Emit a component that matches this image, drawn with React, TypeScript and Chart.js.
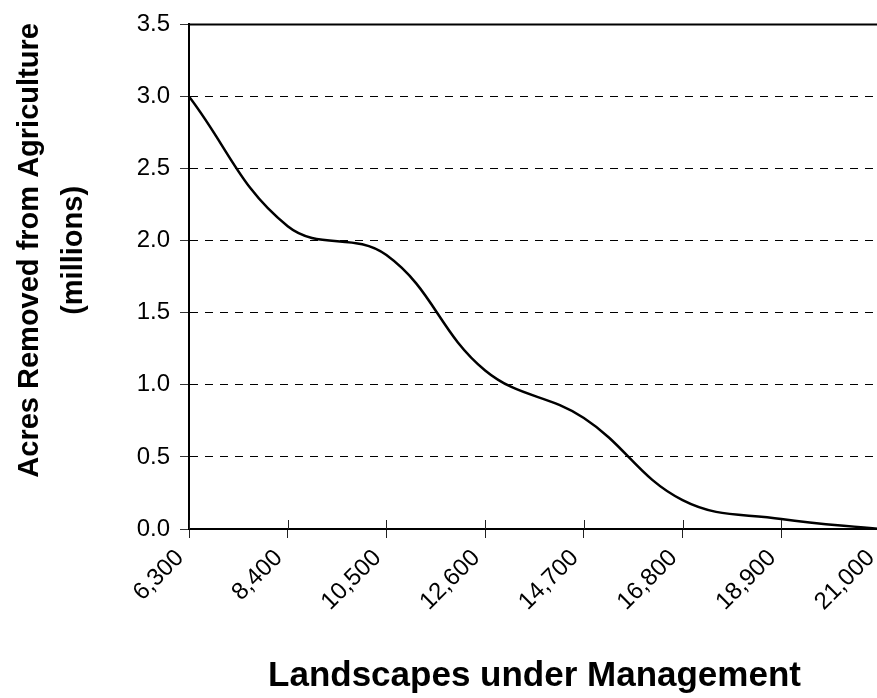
import React, { useEffect, useRef } from "react";
import { Chart, registerables } from "chart.js";

Chart.register(...registerables);

// Landscapes under management (x) and acres removed from agriculture, millions (y)
const landscapes = [6300, 8400, 10500, 12600, 14700, 16800, 18900, 21000];
const acresRemoved = [3.0, 2.1, 1.9, 1.1, 0.77, 0.2, 0.07, 0.0];

const xTickValues = [6300, 8400, 10500, 12600, 14700, 16800, 18900, 21000];
const yTickValues = [0, 0.5, 1.0, 1.5, 2.0, 2.5, 3.0, 3.5];

const xTitle = "Landscapes under Management";
const yTitle = ["Acres Removed from Agriculture", "(millions)"];

const FONT = "'Liberation Sans', Arial, Helvetica, sans-serif";

export default function App() {
  const ref = useRef<HTMLCanvasElement | null>(null);

  useEffect(() => {
    const canvas = ref.current;
    if (!canvas) return;

    const framePlugin = {
      id: "frame",
      afterDraw(chart: any) {
        const { ctx, chartArea } = chart;
        const xs = chart.scales.x;
        ctx.save();
        // top border
        ctx.strokeStyle = "#000";
        ctx.lineWidth = 2;
        ctx.beginPath();
        ctx.moveTo(chartArea.left - 1, chartArea.top);
        ctx.lineTo(chartArea.right + 10, chartArea.top);
        ctx.stroke();
        // inward tick marks on x axis
        ctx.lineWidth = 1;
        ctx.strokeStyle = "#222";
        for (const v of xTickValues) {
          const px = Math.round(xs.getPixelForValue(v)) + 0.5;
          ctx.beginPath();
          ctx.moveTo(px, chartArea.bottom - 9);
          ctx.lineTo(px, chartArea.bottom);
          ctx.stroke();
        }
        // y axis title (two centred lines, placed like the original)
        ctx.fillStyle = "#000";
        ctx.font = `bold 29px ${FONT}`;
        ctx.textAlign = "center";
        ctx.textBaseline = "middle";
        const cy = chartArea.top + 226;
        const xs0 = [30, 74];
        yTitle.forEach((line, i) => {
          ctx.save();
          ctx.translate(xs0[i], cy);
          ctx.rotate(-Math.PI / 2);
          ctx.fillText(line, 0, 0);
          ctx.restore();
        });
        ctx.restore();
      },
    };

    const chart = new Chart(canvas, {
      type: "line",
      data: {
        datasets: [
          {
            data: landscapes.map((x, i) => ({ x, y: acresRemoved[i] })),
            borderColor: "#000",
            borderWidth: 2.5,
            pointRadius: 0,
            tension: 0.4,
            fill: false,
          },
        ],
      },
      options: {
        responsive: false,
        animation: false,
        layout: { padding: { top: 20, right: 10, left: 0, bottom: 0 } },
        plugins: {
          legend: { display: false },
          tooltip: { enabled: false },
        },
        scales: {
          x: {
            type: "linear",
            min: xTickValues[0],
            max: xTickValues[xTickValues.length - 1],
            afterBuildTicks: (s: any) => {
              s.ticks = xTickValues.map((v) => ({ value: v }));
            },
            afterFit: (s: any) => {
              s.height = 169;
              s.paddingLeft = 0;
              s.paddingRight = 0;
            },
            ticks: {
              autoSkip: false,
              maxRotation: 45,
              minRotation: 45,
              labelOffset: -9,
              padding: 6,
              color: "#000",
              font: { family: FONT, size: 24 },
              callback: (v: any) => Number(v).toLocaleString("en-US"),
            },
            grid: {
              drawOnChartArea: false,
              drawTicks: true,
              tickLength: 9,
              tickColor: "#222",
              tickWidth: 1,
            },
            border: { display: true, color: "#000", width: 2 },
            title: {
              display: true,
              text: xTitle,
              color: "#000",
              font: { family: FONT, size: 35, weight: "bold" },
              padding: { top: 0, bottom: 1 },
            },
          },
          y: {
            type: "linear",
            min: 0,
            max: 3.5,
            afterBuildTicks: (s: any) => {
              s.ticks = yTickValues.map((v) => ({ value: v }));
            },
            afterFit: (s: any) => {
              s.width = 189;
            },
            ticks: {
              padding: 10,
              color: "#000",
              font: { family: FONT, size: 24 },
              callback: (v: any) => Number(v).toFixed(1),
            },
            grid: {
              color: (c: any) =>
                c.tick && (c.tick.value === 0 || c.tick.value === 3.5) ? "rgba(0,0,0,0)" : "#000",
              lineWidth: 1,
              drawTicks: true,
              tickLength: 9,
              tickColor: "#333",
              tickWidth: 1,
            },
            border: { display: true, color: "#000", width: 2, dash: [8, 7] },
            title: { display: false, text: yTitle },
          },
        },
      } as any,
      plugins: [framePlugin],
    });

    return () => chart.destroy();
  }, []);

  return (
    <div
      style={{
        position: "fixed",
        left: 0,
        top: 0,
        width: 877,
        height: 698,
        overflow: "hidden",
        background: "#fff",
      }}
    >
      <canvas ref={ref} width={890} height={698} style={{ display: "block" }} />
    </div>
  );
}
